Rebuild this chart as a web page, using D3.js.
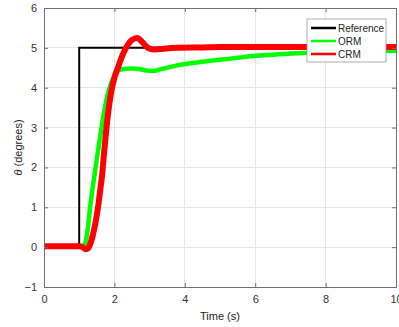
<!DOCTYPE html>
<html><head><meta charset="utf-8">
<script src="https://cdn.jsdelivr.net/npm/d3@7"></script>
<style>body{margin:0;background:#fff}svg{display:block}</style>
</head><body>
<script>
const xTicks = [0, 2, 4, 6, 8, 10];
const yTicks = [-1, 0, 1, 2, 3, 4, 5, 6];
const seriesNames = ["Reference", "ORM", "CRM"];
const seriesColors = ["#000000", "#00ff00", "#ff0000"];
const refT = [0, 1, 1, 10];
const refV = [0, 0, 5, 5];
const ormT = [0, 0.5, 1.0, 1.1, 1.17, 1.25, 1.31, 1.4, 1.5, 1.6, 1.7, 1.8, 1.9, 2.0, 2.1, 2.25, 2.5, 2.7, 2.9, 3.1, 3.3, 3.5, 3.9, 4.4, 5.0, 5.5, 6.0, 6.5, 7.0, 7.5, 8.0, 9.0, 10.0];
const ormV = [0.02, 0.02, 0.02, 0.03, 0.1, 0.5, 1.0, 1.6, 2.2, 2.8, 3.35, 3.8, 4.1, 4.3, 4.42, 4.47, 4.48, 4.47, 4.43, 4.42, 4.46, 4.5, 4.58, 4.64, 4.7, 4.75, 4.8, 4.83, 4.86, 4.88, 4.9, 4.92, 4.93];
const crmT = [0, 0.5, 1.0, 1.1, 1.17, 1.25, 1.3, 1.4, 1.5, 1.55, 1.6, 1.65, 1.7, 1.8, 1.9, 2.0, 2.1, 2.2, 2.3, 2.4, 2.5, 2.65, 2.8, 2.9, 3.0, 3.15, 3.4, 3.8, 4.5, 5, 6, 8, 10];
const crmV = [0.02, 0.02, 0.02, 0.0, -0.05, -0.03, 0.05, 0.35, 0.8, 1.1, 1.45, 1.8, 2.3, 3.2, 3.85, 4.25, 4.5, 4.75, 4.95, 5.1, 5.2, 5.25, 5.14, 5.04, 4.98, 4.96, 4.98, 5.0, 5.01, 5.02, 5.02, 5.02, 5.02];

const W = 399, H = 327;
const m = {l: 44, r: 3, t: 8, b: 40};
const svg = d3.select("body").append("svg").attr("width", W).attr("height", H);
const x = d3.scaleLinear().domain([0, 10]).range([m.l, W - m.r]);
const y = d3.scaleLinear().domain([-1, 6]).range([H - m.b, m.t]);
const axisCol = "#707070";
const font = "Liberation Sans, Arial, sans-serif";

// grid
const g = svg.append("g");
g.selectAll(".gx").data(xTicks).join("line")
  .attr("x1", d => x(d)).attr("x2", d => x(d)).attr("y1", y(-1)).attr("y2", y(6))
  .attr("stroke", "#e6e6e6").attr("stroke-width", 1).attr("shape-rendering", "crispEdges");
g.selectAll(".gy").data(yTicks).join("line")
  .attr("x1", x(0)).attr("x2", x(10)).attr("y1", d => y(d)).attr("y2", d => y(d))
  .attr("stroke", "#e6e6e6").attr("stroke-width", 1).attr("shape-rendering", "crispEdges");

// lines
const mk = (T, V) => T.map((t, i) => [t, V[i]]);
const line = d3.line().x(d => x(d[0])).y(d => y(d[1])).curve(d3.curveMonotoneX);
const lineLin = d3.line().x(d => x(d[0])).y(d => y(d[1]));
const plot = svg.append("g");
plot.append("path").attr("d", lineLin(mk(refT, refV))).attr("fill", "none")
  .attr("stroke", seriesColors[0]).attr("stroke-width", 2);
plot.append("path").attr("d", line(mk(ormT, ormV))).attr("fill", "none")
  .attr("stroke", seriesColors[1]).attr("stroke-width", 4.5).attr("stroke-linejoin", "round");
plot.append("path").attr("d", line(mk(crmT, crmV))).attr("fill", "none")
  .attr("stroke", seriesColors[2]).attr("stroke-width", 6).attr("stroke-linejoin", "round");

// axes
const xa = svg.append("g").attr("transform", `translate(0,${y(-1)})`)
  .call(d3.axisBottom(x).tickValues(xTicks).tickSize(-4).tickPadding(8).tickFormat(d3.format("d")));
const xt = svg.append("g").attr("transform", `translate(0,${y(6)})`)
  .call(d3.axisTop(x).tickValues(xTicks).tickSize(-4).tickFormat(""));
const ya = svg.append("g").attr("transform", `translate(${x(0)},0)`)
  .call(d3.axisLeft(y).tickValues(yTicks).tickSize(-4).tickPadding(7).tickFormat(d3.format("d")));
const yr = svg.append("g").attr("transform", `translate(${x(10)},0)`)
  .call(d3.axisRight(y).tickValues(yTicks).tickSize(-4).tickFormat(""));
[xa, xt, ya, yr].forEach(a => {
  a.selectAll("path,line").attr("stroke", axisCol);
  a.selectAll("text").attr("fill", "#333").style("font-family", font).style("font-size", "11px");
});

// labels
svg.append("text").attr("x", (x(0) + x(10)) / 2).attr("y", 320).attr("text-anchor", "middle")
  .style("font-family", font).style("font-size", "11px").attr("fill", "#222").text("Time (s)");
const yl = svg.append("text").attr("transform", `translate(22,${(y(-1) + y(6)) / 2}) rotate(-90)`)
  .attr("text-anchor", "middle").style("font-family", font).style("font-size", "11px").attr("fill", "#222");
yl.append("tspan").style("font-style", "italic").text("θ");
yl.append("tspan").text(" (degrees)");

// legend
const lg = svg.append("g").attr("transform", "translate(307,19)");
lg.append("rect").attr("width", 79).attr("height", 43).attr("fill", "#fff").attr("stroke", "#999").attr("stroke-width", 0.8);
seriesNames.forEach((n, i) => {
  const yy = 9 + i * 13;
  lg.append("line").attr("x1", 4).attr("x2", 29).attr("y1", yy).attr("y2", yy)
    .attr("stroke", seriesColors[i]).attr("stroke-width", 2.5);
  lg.append("text").attr("x", 31).attr("y", yy + 3.5).style("font-family", font).style("font-size", "10px")
    .attr("fill", "#222").text(n);
});
</script>
</body></html>
